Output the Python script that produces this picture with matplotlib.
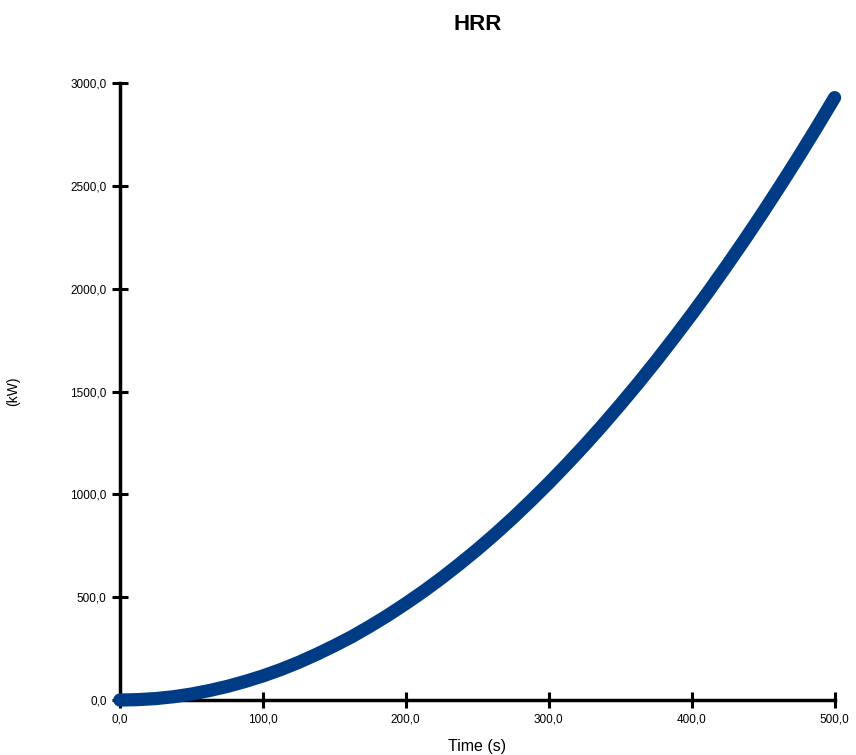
import matplotlib
matplotlib.use("Agg")
import matplotlib.pyplot as plt
from matplotlib.ticker import FuncFormatter

time_s = [0, 12.5, 25, 37.5, 50, 62.5, 75, 87.5, 100, 112.5, 125, 137.5, 150,
          162.5, 175, 187.5, 200, 212.5, 225, 237.5, 250, 262.5, 275, 287.5,
          300, 312.5, 325, 337.5, 350, 362.5, 375, 387.5, 400, 412.5, 425,
          437.5, 450, 462.5, 475, 487.5, 500]
hrr_kw = [0, 2, 7, 16, 29, 46, 66, 90, 117, 148, 183, 222, 264,
          309, 359, 412, 469, 529, 593, 661, 732, 807, 886, 969,
          1055, 1145, 1238, 1335, 1436, 1540, 1648, 1760, 1875, 1994, 2117,
          2243, 2373, 2507, 2644, 2785, 2930]
x_ticks = [0, 100, 200, 300, 400, 500]
y_ticks = [0, 500, 1000, 1500, 2000, 2500, 3000]

plt.rcParams['font.family'] = ['Liberation Sans', 'DejaVu Sans']

fig = plt.figure(figsize=(8.56, 7.55), dpi=100)
ax = fig.add_axes([0.140, 0.0728, 0.835, 0.817])

ax.plot(time_s, hrr_kw, color='#003C85', linewidth=9.5,
        solid_capstyle='round', solid_joinstyle='round', clip_on=False, zorder=3)

ax.set_xlim(0, 500)
ax.set_ylim(0, 3000)
ax.set_xticks(x_ticks)
ax.set_yticks(y_ticks)
fmt = FuncFormatter(lambda v, p: f"{v:.1f}".replace('.', ','))
ax.xaxis.set_major_formatter(fmt)
ax.yaxis.set_major_formatter(fmt)

for s in ['top', 'right']:
    ax.spines[s].set_visible(False)
for s in ['left', 'bottom']:
    ax.spines[s].set_linewidth(2.5)
ax.tick_params(direction='inout', length=11, width=2.2, labelsize=8.5, pad=4)

ax.set_title('HRR', fontsize=16, fontweight='bold', pad=38)
ax.set_xlabel('Time (s)', fontsize=11.5, labelpad=10)
ax.set_ylabel('(kW)', fontsize=10, labelpad=36)

fig.savefig('out.png', dpi=100)
